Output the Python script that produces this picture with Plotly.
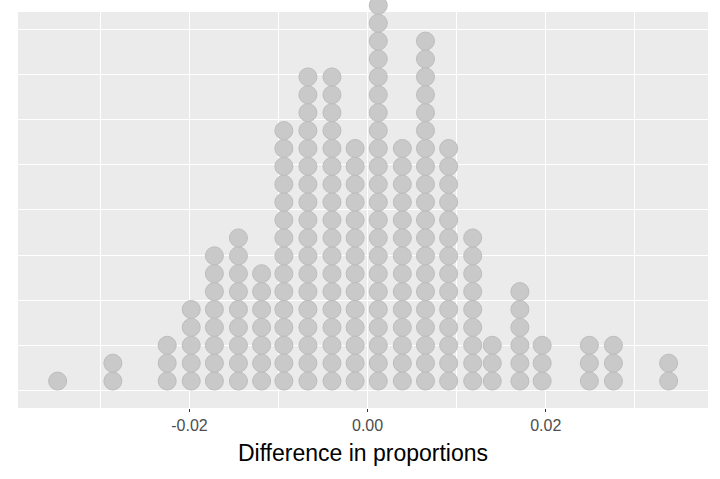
import plotly.graph_objects as go

# bin centres (difference in proportions) and number of stacked dots in each bin
bin_centres = [-0.0348, -0.0286, -0.0225, -0.0198, -0.0172, -0.0145, -0.0119,
               -0.0094, -0.0067, -0.0040, -0.0014, 0.0012, 0.0039, 0.0065,
               0.0091, 0.0118, 0.0140, 0.0171, 0.0196, 0.0249, 0.0276, 0.0338]
bin_counts = [1, 2, 3, 5, 8, 9, 7, 15, 18, 18, 14, 22, 14, 20, 14, 9, 3, 6, 3, 3, 3, 2]

tick_vals = [-0.02, 0.0, 0.02]
tick_text = ["-0.02", "0.00", "0.02"]
minor_vals = [-0.03, -0.01, 0.01, 0.03]

x_range = [-0.03925, 0.03822]
panel_y = [-0.05, 1.05]

# ggplot-style dotplot: one point per observation, stacked upwards
step = 0.0497
xs, ys = [], []
for c, n in zip(bin_centres, bin_counts):
    for k in range(n):
        xs.append(c)
        ys.append((k + 0.5) * step)

fig = go.Figure()
fig.add_trace(go.Scatter(
    x=xs, y=ys, mode="markers",
    marker=dict(size=18, color="#c9c9c9", line=dict(color="#bdbdbd", width=1)),
    cliponaxis=False, hoverinfo="x", showlegend=False,
))

# grey panel drawn as a shape so the tallest stack can poke out above it
fig.add_shape(type="rect", xref="x", yref="y",
              x0=x_range[0], x1=x_range[1], y0=panel_y[0], y1=panel_y[1],
              fillcolor="#ebebeb", line=dict(width=0), layer="below")

fig.update_layout(
    width=720, height=479,
    margin=dict(l=18, r=12, t=0, b=71),
    paper_bgcolor="white",
    plot_bgcolor="white",
    font=dict(family="Liberation Sans, Arial, sans-serif"),
)
fig.update_xaxes(
    range=x_range,
    tickmode="array", tickvals=tick_vals, ticktext=tick_text,
    ticks="outside", ticklen=3, tickwidth=1, tickcolor="#333333",
    tickfont=dict(size=16, color="#4d4d4d"),
    showgrid=True, gridcolor="white", gridwidth=1.1,
    minor=dict(tickmode="array", tickvals=minor_vals, showgrid=True,
               gridcolor="white", gridwidth=0.5, ticks=""),
    zeroline=False, showline=False,
    title=dict(text="Difference in proportions", font=dict(size=23, color="black"), standoff=11),
)
fig.update_yaxes(
    range=[-0.05, 1.0833],
    tickmode="linear", tick0=0, dtick=0.25,
    showticklabels=False, ticks="",
    showgrid=True, gridcolor="white", gridwidth=1.1,
    minor=dict(tickmode="linear", tick0=0.125, dtick=0.25, showgrid=True,
               gridcolor="white", gridwidth=0.5),
    zeroline=False, showline=False,
)

fig.write_html("out.html", config={"displayModeBar": False},
               post_script="document.body.style.margin='0';")
